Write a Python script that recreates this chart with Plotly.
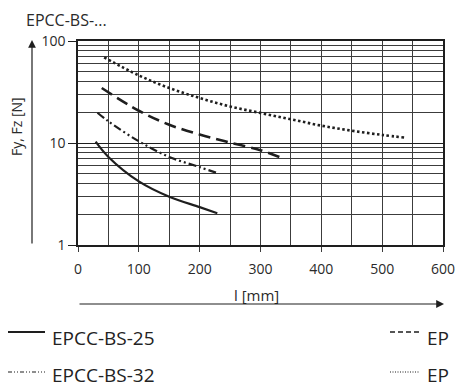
import plotly.graph_objects as go

# ---- data ----
l25 = [29, 50, 100, 150, 200, 229]
f25 = [10.3, 7.3, 4.2, 2.97, 2.35, 2.05]
l32 = [32, 50, 100, 150, 200, 230]
f32 = [19.8, 16.3, 10.4, 7.3, 5.8, 5.05]
l45 = [39, 100, 150, 200, 250, 300, 333]
f45 = [34.6, 20.7, 15.1, 12.1, 10.1, 8.5, 7.2]
l60 = [43, 100, 150, 200, 250, 300, 350, 400, 450, 500, 537]
f60 = [69, 46, 34.6, 27.6, 22.8, 19.7, 17.1, 14.8, 13.2, 12.0, 11.3]

names = ["EPCC-BS-25", "EPCC-BS-32", "EPCC-BS-45", "EPCC-BS-60"]
# legend labels as they appear in the reference (right column is cut at the page edge)
legend_text = ["EPCC-BS-25", "EPCC-BS-32", "EP", "EP"]
y_major = [1, 10, 100]
y_minor = [2, 3, 4, 5, 6, 7, 8, 9, 20, 30, 40, 50, 60, 70, 80, 90]

FONT = "Open Sans"
INK = "#1e1e1e"
GRID = "#3c3c3c"

W, H = 457, 387
ML, MR, MT, MB = 78, 14, 41, 142
PW, PH = W - ML - MR, H - MT - MB


def px(xp):
    return (xp - ML) / PW


def py(yp):
    return (H - MB - yp) / PH


fig = go.Figure()
styles = [
    (l25, f25, "solid", 2.2),
    (l32, f32, "8px,3px,2px,3px,2px,3px", 2.2),
    (l45, f45, "12px,6px", 2.6),
    (l60, f60, "2.5px,2.5px", 2.6),
]
for (xs, ys, dash, w), nm in zip(styles, names):
    fig.add_trace(go.Scatter(x=xs, y=ys, mode="lines", name=nm,
                             line=dict(color=INK, width=w, dash=dash,
                                       shape="spline", smoothing=1.0),
                             showlegend=False))

fig.update_layout(
    width=W, height=H,
    margin=dict(l=ML, r=MR, t=MT, b=MB, pad=0, autoexpand=False),
    plot_bgcolor="white", paper_bgcolor="white",
    font=dict(family=FONT, size=14, color="#2a2a2a"),
    xaxis=dict(range=[0, 600], dtick=100, tick0=0, automargin=False,
               showgrid=True, gridcolor=GRID, gridwidth=1,
               minor=dict(dtick=50, showgrid=True, gridcolor=GRID, gridwidth=1, ticklen=0),
               ticks="outside", ticklen=5, tickcolor=GRID,
               showline=True, linecolor=INK, linewidth=1.5, mirror=True,
               zeroline=False, tickfont=dict(size=14), ticklabelstandoff=5),
    yaxis=dict(type="log", range=[0, 2], tickvals=y_major, automargin=False,
               ticktext=[str(v) for v in y_major],
               showgrid=True, gridcolor=INK, gridwidth=1.3,
               minor=dict(tickvals=y_minor, showgrid=True, gridcolor=GRID, gridwidth=1, ticklen=0),
               ticks="outside", ticklen=8, tickcolor=INK,
               showline=True, linecolor=INK, linewidth=1.5, mirror=True,
               zeroline=False, tickfont=dict(size=14)),
)

ann = []
# title
ann.append(dict(text="EPCC-BS-...", x=px(24), y=py(20), xref="paper", yref="paper",
                xanchor="left", yanchor="middle", showarrow=False,
                font=dict(size=16, color="#2a2a2a")))
# y axis title
ann.append(dict(text="Fy, Fz [N]", x=px(17), y=py(127), xref="paper", yref="paper",
                xanchor="center", yanchor="middle", textangle=-90, showarrow=False,
                font=dict(size=14, color="#2a2a2a")))
# x axis title
ann.append(dict(text="l [mm]", x=px(256), y=py(295), xref="paper", yref="paper",
                xanchor="center", yanchor="middle", showarrow=False,
                font=dict(size=15, color="#2a2a2a")))
# arrows
ann.append(dict(x=px(32), y=py(40), xref="paper", yref="paper",
                ax=0, ay=205, axref="pixel", ayref="pixel", text="", showarrow=True,
                arrowhead=2, arrowsize=1.3, arrowwidth=1.2, arrowcolor=INK))
ann.append(dict(x=px(444), y=py(304), xref="paper", yref="paper",
                ax=-366, ay=0, axref="pixel", ayref="pixel", text="", showarrow=True,
                arrowhead=2, arrowsize=1.3, arrowwidth=1.2, arrowcolor=INK))

# legend drawn as line samples + labels
leg = [
    (8, 45, 332, 50, 338, legend_text[0], "solid", 2.0),
    (8, 45, 372, 50, 375, legend_text[1], "4px,2px,1px,2px,1px,2px", 1.2),
    (390, 420, 332, 425, 338, legend_text[2], "5px,3px", 1.5),
    (390, 420, 372, 425, 375, legend_text[3], "1px,1.5px", 1.2),
]
shapes = []
for x0, x1, yl, xt, yt, nm, dash, w in leg:
    shapes.append(dict(type="line", xref="paper", yref="paper",
                       x0=px(x0), x1=px(x1), y0=py(yl), y1=py(yl),
                       line=dict(color=INK, width=w, dash=dash)))
    ann.append(dict(text=nm, x=px(xt), y=py(yt), xref="paper", yref="paper",
                    xanchor="left", yanchor="middle", showarrow=False,
                    font=dict(size=19, color="#222222")))

fig.update_layout(annotations=ann, shapes=shapes)
fig.write_html("out.html")
